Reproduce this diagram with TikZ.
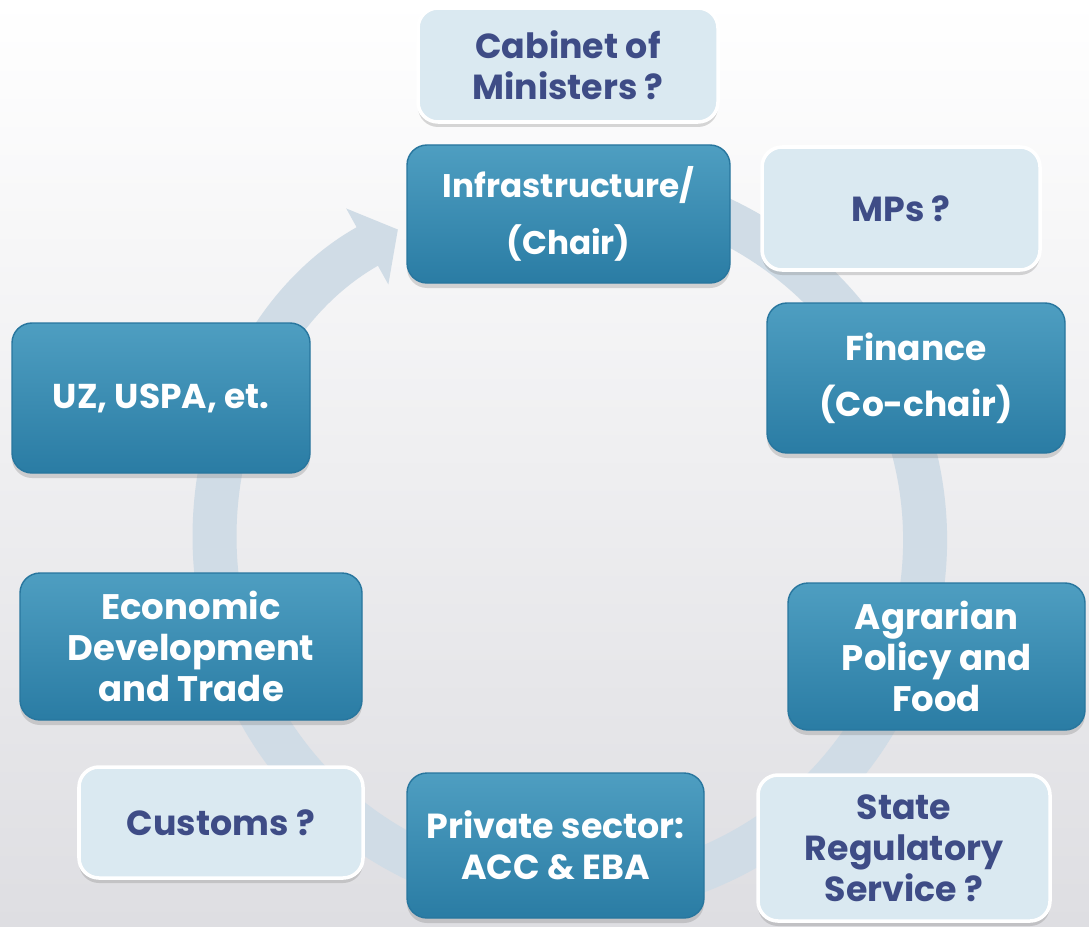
\documentclass[tikz,border=0pt]{standalone}
\usepackage{fontspec}
\setmainfont{Poppins}
\usepackage{tikz}
\usetikzlibrary{shadows}
\usetikzlibrary{arrows.meta}
\usetikzlibrary{positioning}

\definecolor{boxtop}{RGB}{78,158,193}
\definecolor{boxbot}{RGB}{42,124,164}
\definecolor{boxedge}{RGB}{40,118,158}
\definecolor{paleblue}{RGB}{218,233,241}
\definecolor{navytext}{RGB}{62,76,134}
\definecolor{ringcol}{RGB}{208,220,230}
\definecolor{bgbot}{RGB}{222,222,226}

\begin{document}
\begin{tikzpicture}[
		darkbox/.style={rounded corners=0.2cm, top color=boxtop, bottom color=boxbot, draw=boxedge, thin, text=white, align=center,
			font=\bfseries\fontsize{9.9}{11.7}\selectfont, drop shadow={shadow xshift=0pt, shadow yshift=-0.05cm, opacity=0.3}},
		lightbox/.style={rounded corners=0.2cm, fill=paleblue, draw=white, line width=1pt, text=navytext, align=center,
			font=\bfseries\fontsize{9.9}{11.7}\selectfont, drop shadow={shadow xshift=0pt, shadow yshift=-0.05cm, opacity=0.3}},
		bigtext/.style={font=\bfseries\fontsize{9.8}{16}\selectfont}
	]
				% Background
				\useasboundingbox (0,0) rectangle (10.89,9.26);
				\shade[top color=white, bottom color=bgbot] (0,0) rectangle (10.89,9.26);
				
				% Ring
				\coordinate (ctr) at (5.70,3.86);
				\draw[ringcol, line width=0.44cm, -{Triangle[width=0.85cm,length=0.35cm]}] (ctr) ++(110:3.55) arc[start angle=110, end angle=-241, radius=3.55];
				
			 	% Nodes
			 	\node[lightbox, minimum width=3.00cm, minimum height=1.14cm] (cabinet) at (5.68,8.61) {Cabinet of\\Ministers ?};
			 	\node[darkbox, bigtext, font=\bfseries\fontsize{9.3}{16}\selectfont, minimum width=3.23cm, minimum height=1.38cm] (infra) at (5.685,7.12) {Infrastructure/\\(Chair)};
			 	\node[lightbox, minimum width=2.78cm, minimum height=1.23cm] (mps) at (9.01,7.175) {MPs ?};
			 	\node[darkbox, bigtext, minimum width=2.98cm, minimum height=1.50cm] (finance) at (9.16,5.48) {Finance\\(Co-chair)};
			 	\node[darkbox, bigtext, minimum width=2.98cm, minimum height=1.50cm] (uz) at (1.61,5.28) {UZ, USPA, et.};
			 	\node[darkbox, font=\bfseries\fontsize{10.1}{11.7}\selectfont, minimum width=3.42cm, minimum height=1.47cm] (econ) at (1.91,2.795) {Economic\\Development\\and Trade};
			 	\node[darkbox, font=\bfseries\fontsize{10.1}{11.7}\selectfont, minimum width=2.97cm, minimum height=1.47cm] (agrar) at (9.365,2.695) {Agrarian\\Policy and\\Food};
			 	\node[lightbox, minimum width=2.84cm, minimum height=1.11cm] (customs) at (2.21,1.035) {Customs ?};
			 	\node[darkbox, minimum width=2.97cm, minimum height=1.45cm] (private) at (5.555,0.805) {Private sector:\\ACC \& EBA};
			 	\node[lightbox, minimum width=2.92cm, minimum height=1.46cm] (state) at (9.04,0.78) {State\\Regulatory\\Service ?};
			\end{tikzpicture}
\end{document}
